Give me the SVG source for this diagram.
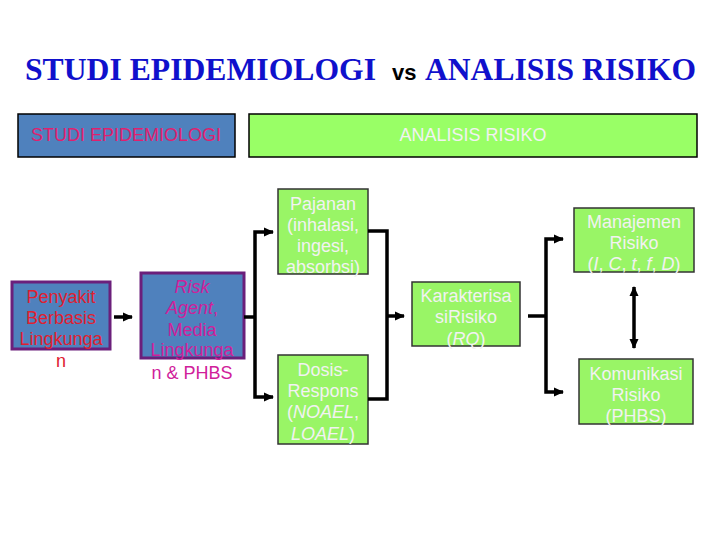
<svg xmlns="http://www.w3.org/2000/svg" width="720" height="540" viewBox="0 0 720 540">
<style>
.t{font-family:"Liberation Serif","Times New Roman",serif;font-weight:bold;font-size:32px;fill:#1010cc}
.s{font-family:"Liberation Sans",Arial,sans-serif;font-size:18px;text-anchor:middle}
.g{fill:#99f566;stroke:#333;stroke-width:1.5}
.b{fill:#4f81bd;stroke:#6b1f7b;stroke-width:3}
.w{fill:#f2f2f2}
.c{fill:none;stroke:#000;stroke-width:3.5}
</style>
<defs>
<marker id="ah" markerUnits="userSpaceOnUse" markerWidth="10" markerHeight="10" refX="9" refY="5" orient="auto-start-reverse">
<path d="M0,0.5 L10,5 L0,9.5 Z" fill="#000"/>
</marker>
</defs>
<text class="t" x="25" y="80" textLength="351" lengthAdjust="spacingAndGlyphs">STUDI EPIDEMIOLOGI</text>
<text x="392" y="80" style="font-family:'Liberation Sans',Arial,sans-serif;font-weight:bold;font-size:22px;fill:#000">vs</text>
<text class="t" x="425" y="80" textLength="271" lengthAdjust="spacingAndGlyphs">ANALISIS RISIKO</text>

<g id="hdr-epi">
<rect x="18" y="114" width="217" height="43" fill="#4f81bd" stroke="#000" stroke-width="1.5"/>
<text class="s" x="126" y="141" fill="#e0206e">STUDI EPIDEMIOLOGI</text>
</g>
<g id="hdr-ar">
<rect x="249" y="114" width="448" height="43" fill="#99ff66" stroke="#000" stroke-width="1.5"/>
<text class="s w" x="473" y="141">ANALISIS RISIKO</text>
</g>

<g id="penyakit">
<rect class="b" x="12" y="282" width="98" height="67"/>
<text class="s" fill="#e02030"><tspan x="61" y="303">Penyakit</tspan><tspan x="61" y="324">Berbasis</tspan><tspan x="61" y="345">Lingkunga</tspan><tspan x="61" y="367">n</tspan></text>
</g>
<g id="risk">
<rect class="b" x="141" y="273" width="103" height="85"/>
<text class="s" fill="#d0209a"><tspan x="192" y="293" font-style="italic">Risk</tspan><tspan x="192" y="314"><tspan font-style="italic">Agent</tspan>,</tspan><tspan x="192" y="336">Media</tspan><tspan x="192" y="356">Lingkunga</tspan><tspan x="192" y="379">n &amp; PHBS</tspan></text>
</g>
<g id="pajanan">
<rect class="g" x="278" y="189" width="90" height="85"/>
<text class="s w"><tspan x="323" y="210">Pajanan</tspan><tspan x="323" y="231">(inhalasi,</tspan><tspan x="323" y="252">ingesi,</tspan><tspan x="323" y="273">absorbsi)</tspan></text>
</g>
<g id="dosis">
<rect class="g" x="278" y="355" width="90" height="89"/>
<text class="s w"><tspan x="323" y="376">Dosis-</tspan><tspan x="323" y="397">Respons</tspan><tspan x="323" y="418">(<tspan font-style="italic">NOAEL</tspan>,</tspan><tspan x="323" y="440"><tspan font-style="italic">LOAEL</tspan>)</tspan></text>
</g>
<g id="karakterisasi">
<rect class="g" x="412" y="282" width="108" height="64"/>
<text class="s w"><tspan x="466" y="302">Karakterisa</tspan><tspan x="466" y="323">siRisiko</tspan><tspan x="466" y="345">(<tspan font-style="italic">RQ</tspan>)</tspan></text>
</g>
<g id="manajemen">
<rect class="g" x="574" y="208" width="120" height="64"/>
<text class="s w"><tspan x="634" y="228">Manajemen</tspan><tspan x="634" y="249">Risiko</tspan><tspan x="634" y="270">(<tspan font-style="italic">I</tspan>, <tspan font-style="italic">C</tspan>, <tspan font-style="italic">t</tspan>, <tspan font-style="italic">f</tspan>, <tspan font-style="italic">D</tspan>)</tspan></text>
</g>
<g id="komunikasi">
<rect class="g" x="579" y="359" width="114" height="65"/>
<text class="s w"><tspan x="636" y="380">Komunikasi</tspan><tspan x="636" y="401">Risiko</tspan><tspan x="636" y="422">(PHBS)</tspan></text>
</g>

<g id="connectors">
<line class="c" x1="114" y1="317" x2="132" y2="317" marker-end="url(#ah)"/>
<polyline class="c" points="244,317 255,317"/>
<polyline class="c" points="273,232 255,232 255,397 273,397" marker-start="url(#ah)" marker-end="url(#ah)"/>
<polyline class="c" points="368,231 387,231 387,399 368,399"/>
<line class="c" x1="387" y1="316" x2="404" y2="316" marker-end="url(#ah)"/>
<line class="c" x1="528" y1="316" x2="546" y2="316"/>
<polyline class="c" points="563,239 546,239 546,392 563,392" marker-start="url(#ah)" marker-end="url(#ah)"/>
<line class="c" x1="634" y1="287" x2="634" y2="348" marker-start="url(#ah)" marker-end="url(#ah)"/>
</g>
</svg>
